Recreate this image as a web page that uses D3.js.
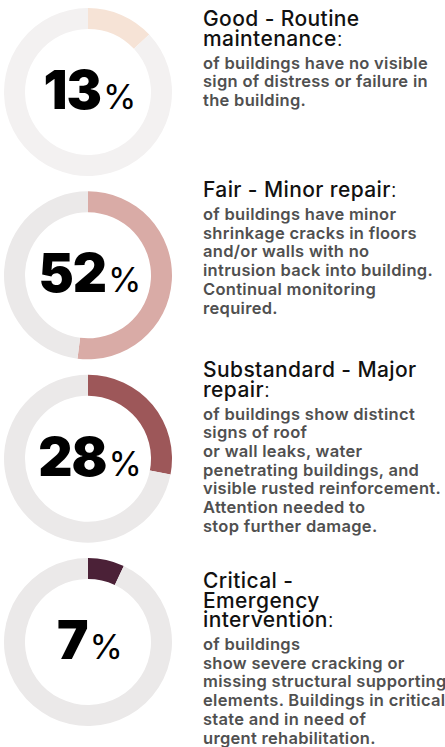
<!DOCTYPE html>
<html>
<head>
<meta charset="utf-8">
<script src="https://cdn.jsdelivr.net/npm/d3@7"></script>
<style>
  body { margin: 0; background: #fff; }
  svg { display: block; }
  .title { font-family: Inter, "Open Sans", sans-serif; font-size: 21px; font-weight: 500; letter-spacing: 0.4px; fill: #111; }
  .body { font-family: Inter, "Open Sans", sans-serif; font-size: 16.5px; font-weight: 600; letter-spacing: 0.3px; fill: #505050; }
  .num { font-family: Inter, Lato, sans-serif; fill: #000; }
</style>
</head>
<body>
<div id="chart"></div>
<script>
// values
const percents = [13, 52, 28, 7];
const titleLines = [
    ["Good - Routine", "maintenance"],
    ["Fair - Minor repair"],
    ["Substandard - Major", "repair"],
    ["Critical -", "Emergency", "intervention"]
];
const bodyLines = [
    ["of buildings have no visible", "sign of distress or failure in", "the building."],
    ["of buildings have minor", "shrinkage cracks in floors", "and/or walls with no", "intrusion back into building.", "Continual monitoring", "required."],
    ["of buildings show distinct", "signs of roof", "or wall leaks, water", "penetrating buildings, and", "visible rusted reinforcement.", "Attention needed to", "stop further damage."],
    ["of buildings", "show severe cracking or", "missing structural supporting", "elements. Buildings in critical", "state and in need of", "urgent rehabilitation."]
];
const arcColors = ["#f6e3d6", "#d9aba6", "#9d5759", "#4b2137"];
const trackColors = ["#f3f1f1", "#ebe9e9", "#ebe9e9", "#ebe9e9"];

const width = 445, height = 747;
const cx = 88, outerR = 84, innerR = 63;
// first title baseline for each block
const textTop = [26, 197, 377, 588];
const textX = 203;

const svg = d3.select("#chart").append("svg")
    .attr("width", width)
    .attr("height", height);

svg.append("clipPath").attr("id", "clip")
    .append("rect").attr("x", 0).attr("y", 0).attr("width", 172.5).attr("height", height);

const yScale = d3.scaleLinear().domain([0, percents.length - 1]).range([92, 642]);

const pie = d3.pie().sort(null).value(d => d);
const arc = d3.arc().innerRadius(innerR).outerRadius(outerR);

percents.forEach((p, i) => {
    const g = svg.append("g")
        .attr("clip-path", "url(#clip)")
        .append("g")
        .attr("transform", "translate(" + cx + "," + yScale(i) + ")");

    g.selectAll("path")
        .data(pie([p, 100 - p]))
        .enter()
      .append("path")
        .attr("d", arc)
        .attr("fill", (d, j) => j === 0 ? arcColors[i] : trackColors[i]);

    const label = svg.append("text")
        .attr("class", "num")
        .attr("x", cx + 2)
        .attr("y", yScale(i) + 17)
        .attr("text-anchor", "middle");
    label.append("tspan")
        .attr("font-size", 53)
        .attr("font-weight", 900)
        .attr("letter-spacing", -1)
        .text(p);
    label.append("tspan")
        .attr("font-size", 34)
        .attr("font-weight", 400)
        .attr("dx", 2)
        .text("%");

    // description block
    let y = textTop[i];
    titleLines[i].forEach((line, k) => {
        const t = svg.append("text")
            .attr("class", "title")
            .attr("x", textX)
            .attr("y", y)
            .text(line);
        if (k === titleLines[i].length - 1) {
            t.append("tspan").attr("font-weight", 300).text(":");
        } else {
            y += 19.5;
        }
    });
    y += 23;
    bodyLines[i].forEach(line => {
        svg.append("text")
            .attr("class", "body")
            .attr("x", textX)
            .attr("y", y)
            .text(line);
        y += 18.7;
    });
});
</script>
</body>
</html>
